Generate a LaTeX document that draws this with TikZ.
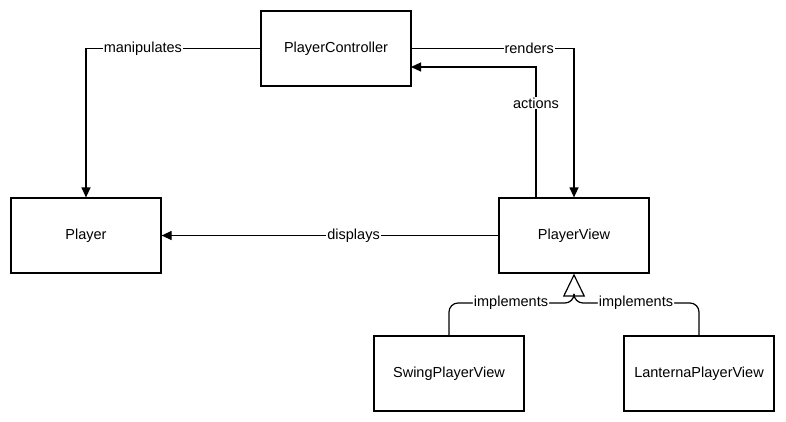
\documentclass[tikz,border=0pt]{standalone}
\usepackage{fontspec}
\setmainfont{Liberation Sans}
\usetikzlibrary{arrows.meta,calc}
\begin{document}
\begin{tikzpicture}[x=1pt,y=-1pt,line width=1.2pt,
  box/.style={draw,minimum width=150pt,minimum height=75pt,inner sep=0pt,font=\fontsize{14.5}{17}\selectfont},
  conn/.style={-{Triangle[length=10pt,width=9pt]}},
  lbl/.style={fill=white,inner sep=1pt,font=\fontsize{14.5}{17}\selectfont},
  impl/.style={rounded corners=9pt}]
\useasboundingbox (0,0) rectangle (786,421);
\node[box] (pc) at (336,48.5) {PlayerController};
\node[box] (pl) at (86,235.5) {Player};
\node[box] (pv) at (574,235.5) {PlayerView};
\node[box] (sw) at (449,373.5) {SwingPlayerView};
\node[box] (la) at (699,373.5) {LanternaPlayerView};
\coordinate (j) at (574,303);
\coordinate (actS) at (536,198);
\coordinate (actE) at (411,67);
\draw[conn] (pc.west) -| node[lbl,pos=0.337] {manipulates} (pl.north);
\draw[conn] (pc.east) -| node[lbl,pos=0.362] {renders} (pv.north);
\draw[conn] (actS) |- node[lbl,pos=0.363] {actions} (actE);
\draw[conn] (pv.west) -- node[lbl,pos=0.43] {displays} (pl.east);
\draw[impl] (sw.north) |- node[lbl,pos=0.748] {implements} (j) -- ++(0,-7);
\draw[impl] (la.north) |- node[lbl,pos=0.752] {implements} (j) -- ++(0,-7);
\draw[-{Triangle[open,length=23pt,width=22pt]}] (574,296) -- (pv.south);
\end{tikzpicture}
\end{document}
